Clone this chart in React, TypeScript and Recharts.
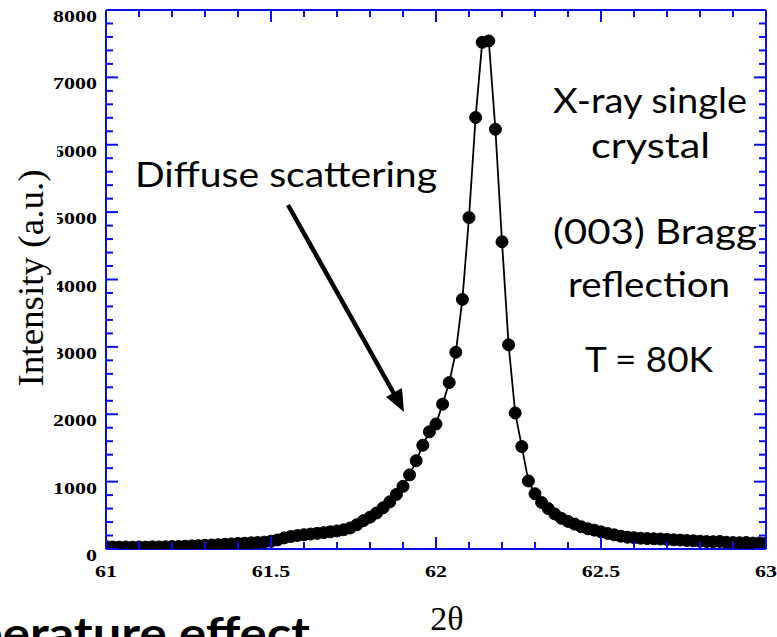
import React from 'react';
import { ComposedChart, Line, XAxis, YAxis } from 'recharts';

const twoTheta = [
  61.00, 61.02, 61.04, 61.06, 61.08, 61.10, 61.12, 61.14, 61.16, 61.18,
  61.20, 61.22, 61.24, 61.26, 61.28, 61.30, 61.32, 61.34, 61.36, 61.38,
  61.40, 61.42, 61.44, 61.46, 61.48, 61.50, 61.52, 61.54, 61.56, 61.58,
  61.60, 61.62, 61.64, 61.66, 61.68, 61.70, 61.72, 61.74, 61.76, 61.78,
  61.80, 61.82, 61.84, 61.86, 61.88, 61.90, 61.92, 61.94, 61.96, 61.98,
  62.00, 62.02, 62.04, 62.06, 62.08, 62.10, 62.12, 62.14, 62.16, 62.18,
  62.20, 62.22, 62.24, 62.26, 62.28, 62.30, 62.32, 62.34, 62.36, 62.38,
  62.40, 62.42, 62.44, 62.46, 62.48, 62.50, 62.52, 62.54, 62.56, 62.58,
  62.60, 62.62, 62.64, 62.66, 62.68, 62.70, 62.72, 62.74, 62.76, 62.78,
  62.80, 62.82, 62.84, 62.86, 62.88, 62.90, 62.92, 62.94, 62.96, 62.98,
  63.00,
];

const intensity = [
  35, 30, 28, 30, 27, 30, 28, 32, 30, 33,
  36, 38, 42, 46, 50, 55, 60, 64, 70, 76,
  82, 86, 92, 96, 102, 115, 135, 165, 185, 200,
  212, 222, 232, 243, 255, 268, 285, 312, 360, 420,
  472, 535, 612, 700, 810, 930, 1100, 1310, 1540, 1740,
  1855, 2150, 2470, 2920, 3705, 4920, 6405, 7520, 7540, 6230,
  4560, 3030, 2020, 1520, 1010, 820, 690, 600, 520, 455,
  410, 370, 330, 300, 280, 255, 230, 210, 190, 175,
  168, 160, 155, 152, 148, 142, 136, 132, 126, 122,
  116, 110, 108, 112, 100, 95, 93, 96, 88, 90,
  85,
];

const xMajorTicks = [61, 61.5, 62, 62.5, 63];
const xMinorTicks = [61.1, 61.2, 61.3, 61.4, 61.6, 61.7, 61.8, 61.9, 62.1, 62.2, 62.3, 62.4, 62.6, 62.7, 62.8, 62.9];
const yMajorTicks = [0, 1000, 2000, 3000, 4000, 5000, 6000, 7000, 8000];
const yMinorTicks = [200, 400, 600, 800, 1200, 1400, 1600, 1800, 2200, 2400, 2600, 2800, 3200, 3400, 3600, 3800, 4200, 4400, 4600, 4800, 5200, 5400, 5600, 5800, 6200, 6400, 6600, 6800, 7200, 7400, 7600, 7800];

const data = twoTheta.map((x, i) => ({ x, y: intensity[i] }));
const xAllTicks = [...xMajorTicks, ...xMinorTicks].sort((a, b) => a - b);
const yAllTicks = [...yMajorTicks, ...yMinorTicks].sort((a, b) => a - b);

const BLUE = '#0c0cf0';
const SERIF = '"Liberation Serif", "Times New Roman", serif';
const SANS = 'Lato, "Open Sans", sans-serif';
const MAJOR_LEN = 12;
const MINOR_LEN = 7;

const isIn = (v: number, list: number[]) => list.some((t) => Math.abs(t - v) < 1e-6);

const labelStyle = {
  textAnchor: 'middle' as const,
  fontFamily: SERIF,
  fontWeight: 'bold' as const,
  fontSize: 16,
  fill: '#000',
};

// side: 'bottom' | 'top' | 'left' | 'right'
const makeTick = (side: string, majors: number[], withLabels: boolean) => (props: any) => {
  const { x, y, payload } = props;
  const v = payload.value as number;
  const major = isIn(v, majors);
  const len = major ? MAJOR_LEN : MINOR_LEN;
  let line;
  if (side === 'bottom') line = <line x1={x} y1={y} x2={x} y2={y - len} stroke={BLUE} strokeWidth={2} />;
  else if (side === 'top') line = <line x1={x} y1={y} x2={x} y2={y + len} stroke={BLUE} strokeWidth={2} />;
  else if (side === 'left') line = <line x1={x} y1={y} x2={x + len} y2={y} stroke={BLUE} strokeWidth={2} />;
  else line = <line x1={x} y1={y} x2={x - len} y2={y} stroke={BLUE} strokeWidth={2} />;
  let label = null;
  if (withLabels && major) {
    if (side === 'bottom') {
      label = (
        <text x={0} y={0} transform={`translate(${x},${y + 28}) scale(1.375,1)`} {...labelStyle}>
          {v}
        </text>
      );
    } else if (side === 'left') {
      label = (
        <text x={0} y={0} transform={`translate(${x - 9},${y + 12}) scale(1.375,1)`} {...labelStyle} textAnchor="end">
          {v}
        </text>
      );
    }
  }
  return (
    <g>
      {line}
      {label}
    </g>
  );
};

const BottomTick = makeTick('bottom', xMajorTicks, true);
const TopTick = makeTick('top', xMajorTicks, false);
const LeftTick = makeTick('left', yMajorTicks, true);
const RightTick = makeTick('right', yMajorTicks, false);

const axisLine = { stroke: BLUE, strokeWidth: 2 };

const numX = { type: 'number' as const, dataKey: 'x', domain: [61, 63], allowDataOverflow: true, interval: 0 as const, ticks: xAllTicks, tickSize: 0, tickMargin: 0, tickLine: false, axisLine, height: 1 };
const numY = { type: 'number' as const, domain: [0, 8000], allowDataOverflow: true, interval: 0 as const, ticks: yAllTicks, tickSize: 0, tickMargin: 0, tickLine: false, axisLine, width: 1 };

export default function App() {
  return (
    <div style={{ position: 'absolute', left: 0, top: 0, width: 777, height: 637, overflow: 'hidden', background: '#fff' }}>
      <ComposedChart
        width={777}
        height={637}
        data={data}
        margin={{ top: 9, right: 10, bottom: 87, left: 105 }}
      >
        <XAxis xAxisId="xb" {...numX} tick={<BottomTick />} />
        <XAxis xAxisId="xt" orientation="top" {...numX} tick={<TopTick />} />
        <YAxis yAxisId="yl" {...numY} tick={<LeftTick />} />
        <YAxis yAxisId="yr" orientation="right" {...numY} tick={<RightTick />} />
        <Line
          xAxisId="xb"
          yAxisId="yl"
          type="linear"
          dataKey="y"
          stroke="#000"
          strokeWidth={1.8}
          dot={{ r: 6, fill: '#000', stroke: '#000', strokeWidth: 1 }}
          activeDot={false}
          isAnimationActive={false}
        />
      </ComposedChart>
      <svg width={777} height={637} style={{ position: 'absolute', left: 0, top: 0, pointerEvents: 'none' }}>
        <rect x={0} y={128} width={57} height={272} fill="#fff" />
        <text
          transform="translate(43,278) rotate(-90)"
          textAnchor="middle"
          fontFamily={SERIF}
          fontSize={36}
          fill="#000"
          textLength={217}
          lengthAdjust="spacingAndGlyphs"
        >
          Intensity (a.u.)
        </text>
        <text x={447} y={630} textAnchor="middle" fontFamily={SERIF} fontSize={34} fill="#000">2θ</text>
        <text x={-26} y={649} fontFamily={SANS} fontWeight="bold" fontSize={44} fill="#000" textLength={336} lengthAdjust="spacingAndGlyphs">perature effect</text>

        <text x={135} y={187} fontFamily={SANS} fontSize={35} fill="#000" textLength={302} lengthAdjust="spacingAndGlyphs">Diffuse scattering</text>
        <line x1={288} y1={205} x2={394.5} y2={394.5} stroke="#000" strokeWidth={4.5} />
        <polygon points="404,412 386,397 402,388" fill="#000" />

        <text x={553} y={113} fontFamily={SANS} fontSize={35} fill="#000" textLength={194} lengthAdjust="spacingAndGlyphs">X-ray single</text>
        <text x={591} y={158} fontFamily={SANS} fontSize={35} fill="#000" textLength={119} lengthAdjust="spacingAndGlyphs">crystal</text>
        <text x={553} y={244} fontFamily={SANS} fontSize={35} fill="#000" textLength={204} lengthAdjust="spacingAndGlyphs">(003) Bragg</text>
        <text x={568} y={297} fontFamily={SANS} fontSize={35} fill="#000" textLength={162} lengthAdjust="spacingAndGlyphs">reflection</text>
        <text x={585} y={372} fontFamily={SANS} fontSize={35} fill="#000" textLength={128} lengthAdjust="spacingAndGlyphs">T = 80K</text>
      </svg>
    </div>
  );
}
